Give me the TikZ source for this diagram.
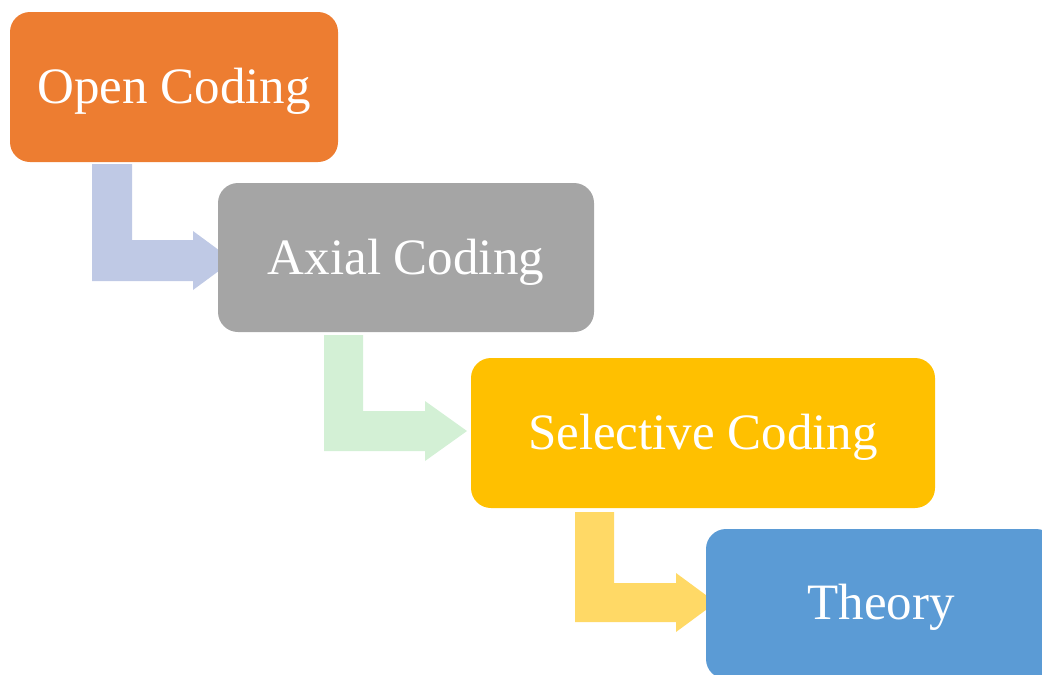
\documentclass[tikz,border=0pt]{standalone}
\usepackage{fontspec}
\setmainfont{Liberation Serif}
\usetikzlibrary{calc}
\definecolor{cOrange}{HTML}{ED7D31}
\definecolor{cGray}{HTML}{A5A5A5}
\definecolor{cYellow}{HTML}{FFC000}
\definecolor{cBlue}{HTML}{5B9BD5}
\definecolor{aBlue}{HTML}{BFC9E5}
\definecolor{aGreen}{HTML}{D3F0D5}
\definecolor{aYellow}{HTML}{FFD966}
\tikzset{
  stagebox/.style={rounded corners=20pt, text=white, font=\fontsize{51}{60}\selectfont},
}
\begin{document}
\begin{tikzpicture}[x=1pt,y=-1pt]
\useasboundingbox (0,0) rectangle (1042,675);
% block arrows (drawn first, under the boxes)
\fill[aBlue] (92,164) -- (132,164) -- (132,240) -- (193,240) -- (193,231) -- (233,260.5) -- (193,290) -- (193,281) -- (92,281) -- cycle;
\fill[aGreen] (324,335) -- (363,335) -- (363,411) -- (425,411) -- (425,401) -- (467,431) -- (425,461) -- (425,451) -- (324,451) -- cycle;
\fill[aYellow] (575,512) -- (614,512) -- (614,583) -- (676,583) -- (676,573) -- (716,602.5) -- (676,632) -- (676,622) -- (575,622) -- cycle;
% boxes
\fill[cOrange, rounded corners=20pt] (10,12) rectangle (338,162);
\fill[cGray, rounded corners=20pt] (218,183) rectangle (594,332);
\fill[cYellow, rounded corners=20pt] (471,358) rectangle (935,508);
\fill[cBlue, rounded corners=20pt] (706,529) rectangle (1056,679);
% labels
\node[stagebox] (open) at (174,91) {Open Coding};
\node[stagebox] (axial) at (406,262) {Axial Coding};
\node[stagebox] (selective) at (703,437) {Selective Coding};
\node[stagebox] (theory) at (881,607) {Theory};
\end{tikzpicture}
\end{document}
